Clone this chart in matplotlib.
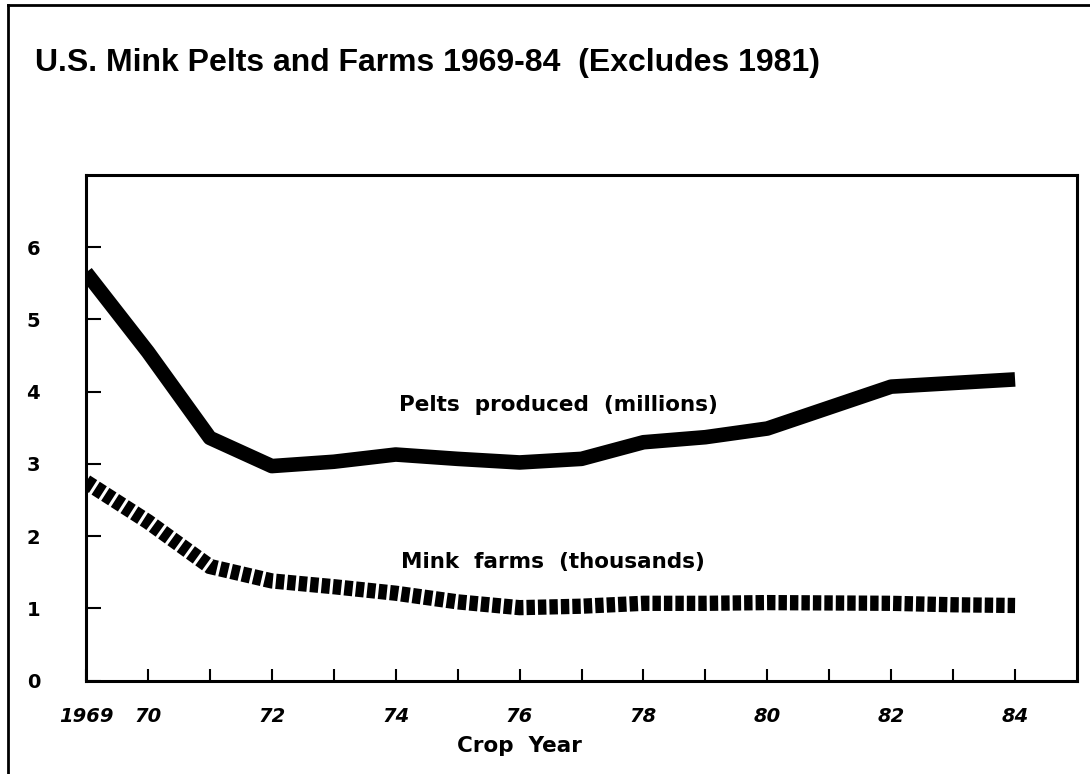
import matplotlib
matplotlib.use("Agg")
import matplotlib.pyplot as plt
from matplotlib.lines import Line2D

# Data (1981 excluded)
years = [1969, 1970, 1971, 1972, 1973, 1974, 1975, 1976, 1977, 1978, 1979, 1980, 1982, 1983, 1984]
pelts_millions = [5.65, 4.55, 3.36, 2.97, 3.03, 3.13, 3.07, 3.02, 3.07, 3.30, 3.37, 3.49, 4.07, 4.12, 4.17]
farms_thousands = [2.75, 2.20, 1.58, 1.38, 1.30, 1.21, 1.09, 1.01, 1.03, 1.07, 1.07, 1.08, 1.07, 1.05, 1.04]

xtick_positions = [1969, 1970, 1972, 1974, 1976, 1978, 1980, 1982, 1984]
xtick_labels = ["1969", "70", "72", "74", "76", "78", "80", "82", "84"]
ytick_values = [0, 1, 2, 3, 4, 5, 6]

title = "U.S. Mink Pelts and Farms 1969-84  (Excludes 1981)"
pelts_label = "Pelts  produced  (millions)"
farms_label = "Mink  farms  (thousands)"
xlabel = "Crop  Year"

plt.rcParams['font.family'] = ["DejaVu Sans"]

fig = plt.figure(figsize=(10.9, 7.74), dpi=100)
ax = fig.add_axes([86/1090, 1 - 680.6/774, (1077-86)/1090, (680.6-175)/774])

ax.plot(years, pelts_millions, color="black", lw=10.5, solid_capstyle="butt",
        solid_joinstyle="round")
ax.plot(years, farms_thousands, color="black", lw=11, dashes=(0.55, 0.2),
        dash_capstyle="butt", dash_joinstyle="miter")

ax.set_xlim(1969, 1985)
ax.set_ylim(0, 7)

ax.set_xticks(list(range(1969, 1985)), minor=True)
ax.set_xticks(xtick_positions)
ax.set_xticklabels(xtick_labels, fontsize=14, fontstyle="italic", fontweight="bold")
ax.set_yticks(ytick_values)
ax.set_yticklabels([str(v) for v in ytick_values], fontsize=14, fontweight="bold")

ax.tick_params(axis="x", which="both", direction="in", length=9, width=1.5, pad=19)
ax.tick_params(axis="y", which="major", direction="in", length=11, width=1.5, pad=33)

for s in ax.spines.values():
    s.set_linewidth(2.2)

ax.text(1974.05, 3.82, pelts_label, fontsize=15.5, fontweight="bold", va="center", ha="left")
ax.text(1974.08, 1.64, farms_label, fontsize=15.5, fontweight="bold", va="center", ha="left")
ax.text(1976, -0.9, xlabel, fontsize=15.5, fontweight="bold", ha="center", va="center")

fig.text(35/1090, 1 - 63/774, title, fontsize=23, fontweight="bold",
         family=["Liberation Sans", "DejaVu Sans"], ha="left", va="center")

# outer frame lines
fig.add_artist(Line2D([8/1090, 8/1090], [0, 1 - 5/774], transform=fig.transFigure,
                      color="black", lw=2))
fig.add_artist(Line2D([8/1090, 1], [1 - 5/774, 1 - 5/774], transform=fig.transFigure,
                      color="black", lw=2))

fig.savefig("out.png", dpi=100)
